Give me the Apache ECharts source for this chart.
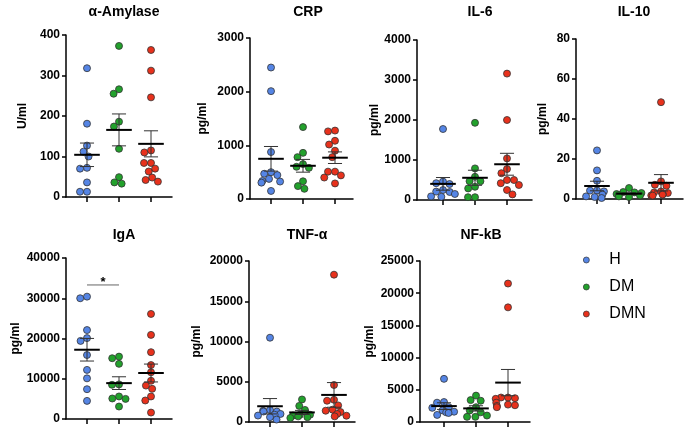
<!DOCTYPE html>
<html>
<head>
<meta charset="utf-8">
<title>cytokines</title>
<script src="https://cdn.jsdelivr.net/npm/echarts@6/dist/echarts.min.js"></script>
<style>
html, body { margin: 0; padding: 0; background: #fff; }
#main { width: 685px; height: 430px; }
</style>
</head>
<body>
<div id="main"></div>
<script>
// groups + panels
const groups = ['H', 'DM', 'DMN'];
const panelNames = ['α-Amylase', 'CRP', 'IL-6', 'IL-10', 'IgA', 'TNF-α', 'NF-kB'];
const units = ['U/ml', 'pg/ml', 'pg/ml', 'pg/ml', 'pg/ml', 'pg/ml', 'pg/ml'];
const yMax = [400, 3000, 4000, 80, 40000, 20000, 25000];
const yStep = [100, 1000, 1000, 20, 10000, 5000, 5000];

// values
const amylaseH = [318, 181, 127, 112, 100, 72, 70, 36, 13, 13];
const amylaseDM = [373, 266, 255, 186, 174, 119, 49, 36, 33];
const amylaseDMN = [363, 312, 246, 115, 110, 84, 84, 70, 63, 48, 42, 38];

const crpH = [2450, 2010, 875, 500, 470, 445, 375, 335, 325, 305, 150];
const crpDM = [1340, 860, 780, 650, 600, 580, 330, 240, 190];
const crpDMN = [1275, 1260, 1085, 1015, 900, 780, 510, 510, 440, 400, 290];

const il6H = [1775, 460, 420, 400, 250, 210, 200, 150, 90, 80];
const il6DM = [1930, 790, 580, 470, 470, 330, 290, 70, 70];
const il6DMN = [3160, 2000, 1040, 775, 670, 500, 500, 420, 375, 250, 140];

const il10H = [24.3, 14.3, 9.1, 4.3, 4.2, 3.8, 2.2, 1.3, 1.0, 0.5];
const il10DM = [5.5, 3.5, 3.3, 3.0, 2.5, 2.0, 1.7, 1.3, 1.0];
const il10DMN = [48.4, 8.8, 7.1, 6.6, 3.8, 3.3, 3.0, 2.5, 2.2, 1.8, 1.7];

const igaH = [30400, 30000, 22100, 20100, 19400, 15900, 12200, 10100, 7400, 4500];
const igaDM = [15500, 15100, 13700, 8600, 8500, 5600, 5100, 5000, 3100];
const igaDMN = [26100, 20900, 16600, 13400, 11600, 9500, 8300, 7500, 5600, 4600, 1600];

const tnfH = [10470, 1500, 1400, 1300, 1300, 1000, 900, 800, 600, 300];
const tnfDM = [2800, 2000, 1500, 900, 900, 800, 700, 600, 500];
const tnfDMN = [18300, 4600, 2760, 2640, 2060, 1530, 1400, 1240, 1000, 780, 700];

const nfkbH = [6700, 3100, 3000, 2300, 2200, 1800, 1600, 1500, 1400, 1100];
const nfkbDM = [4100, 3400, 3300, 2300, 1800, 1500, 1000, 800, 800];
const nfkbDMN = [21500, 17800, 3800, 3800, 3700, 3600, 3000, 2700, 2600, 2500, 2300];

// IgA: H vs DM bracket (from group, to group, height)
const igaSig = [0, 1, 33300];

const panelData = [
	[amylaseH, amylaseDM, amylaseDMN],
	[crpH, crpDM, crpDMN],
	[il6H, il6DM, il6DMN],
	[il10H, il10DM, il10DMN],
	[igaH, igaDM, igaDMN],
	[tnfH, tnfDM, tnfDMN],
	[nfkbH, nfkbDM, nfkbDMN]
];

// layout: y-axis x, first tick x, x-axis end, top, bottom, name gap
const boxes = [
	[66, 87, 172, 35, 197, 37],
	[250, 271, 353, 38, 199, 41],
	[417, 443, 532, 40, 200, 36],
	[576, 597, 683, 39, 199, 27],
	[66, 87, 172, 258, 419, 44],
	[249, 270, 355, 261, 422, 46],
	[420, 444, 530, 261, 422, 44]
];
const colors = ['#5585e5', '#22a12c', '#e8311c'];
const font = 'Liberation Sans';

function mean(a) {
	return a.reduce((s, v) => s + v, 0) / a.length;
}
function sem(a) {
	let m = mean(a);
	let ss = a.reduce((s, v) => s + (v - m) * (v - m), 0);
	return Math.sqrt(ss / (a.length - 1)) / Math.sqrt(a.length);
}

let grid = [], xAxis = [], yAxis = [], series = [], title = [];

boxes.forEach(function (b, i) {
	let ax = b[0], t1 = b[1], ae = b[2], top = b[3], bot = b[4];
	let h = bot - top;
	let xmin = 1 - (t1 - ax) / 32;
	// frame grid with the visible axes
	grid.push({ left: ax, top: top, width: ae - ax, height: h });
	// data grid, one 32px band per group
	grid.push({ left: t1 - 16, top: top, width: 96, height: h });

	xAxis.push({
		gridIndex: 2 * i, type: 'value', min: xmin, max: xmin + (ae - ax) / 32,
		axisLine: { lineStyle: { color: '#000', width: 1.5 } },
		axisTick: { show: true, customValues: [1, 2, 3], length: 5, lineStyle: { color: '#000', width: 1.5 } },
		axisLabel: { show: false },
		splitLine: { show: false }
	});
	xAxis.push({
		gridIndex: 2 * i + 1, type: 'category', data: groups, show: false,
		jitter: 26, jitterOverlap: false, jitterMargin: 0
	});
	yAxis.push({
		gridIndex: 2 * i, type: 'value', min: 0, max: yMax[i], interval: yStep[i],
		name: units[i], nameLocation: 'middle', nameGap: b[5],
		nameTextStyle: { fontSize: 12, fontWeight: 'bold', color: '#000', fontFamily: font },
		axisLine: { show: true, lineStyle: { color: '#000', width: 1.5 } },
		axisTick: { show: true, length: 4, lineStyle: { color: '#000', width: 1.5 } },
		axisLabel: {
			fontSize: 12, fontWeight: 'bold', color: '#000', fontFamily: font, margin: 6,
			formatter: v => String(v)
		},
		splitLine: { show: false }
	});
	yAxis.push({ gridIndex: 2 * i + 1, type: 'value', min: 0, max: yMax[i], show: false });

	title.push({
		text: panelNames[i], left: t1 + 32, top: top < 100 ? 0 : 223, textAlign: 'center',
		textStyle: { fontSize: 14, fontWeight: 'bold', color: '#000', fontFamily: font }
	});

	panelData[i].forEach(function (vals, g) {
		series.push({
			type: 'scatter', name: groups[g],
			xAxisIndex: 2 * i + 1, yAxisIndex: 2 * i + 1,
			data: vals.map(v => [g, v]),
			symbolSize: 7, z: 2,
			itemStyle: { color: colors[g], borderColor: '#333', borderWidth: 0.8, opacity: 1 }
		});
	});

	// mean +- SEM
	series.push({
		type: 'custom', xAxisIndex: 2 * i + 1, yAxisIndex: 2 * i + 1, z: 5, silent: true,
		encode: { x: 0, y: 1 },
		data: panelData[i].map((vals, g) => [g, mean(vals), sem(vals)]),
		renderItem: function (params, api) {
			let x = api.value(0), m = api.value(1), s = api.value(2);
			let c = api.coord([x, m]);
			let hi = api.coord([x, m + s]);
			let lo = api.coord([x, Math.max(m - s, 0)]);
			let bw = api.size([1, 0])[0];
			let w1 = bw * 0.4, w2 = bw * 0.22;
			let thin = { stroke: '#333', lineWidth: 1 };
			return {
				type: 'group', children: [
					{ type: 'line', shape: { x1: c[0], y1: hi[1], x2: c[0], y2: lo[1] }, style: thin },
					{ type: 'line', shape: { x1: c[0] - w2, y1: hi[1], x2: c[0] + w2, y2: hi[1] }, style: thin },
					{ type: 'line', shape: { x1: c[0] - w2, y1: lo[1], x2: c[0] + w2, y2: lo[1] }, style: thin },
					{ type: 'line', shape: { x1: c[0] - w1, y1: c[1], x2: c[0] + w1, y2: c[1] }, style: { stroke: '#000', lineWidth: 2 } }
				]
			};
		}
	});
});

// significance bracket on IgA (panel 4)
series.push({
	type: 'custom', xAxisIndex: 9, yAxisIndex: 9, z: 5, silent: true,
	encode: { x: 0, y: 2 },
	data: [igaSig],
	renderItem: function (params, api) {
		let a = api.coord([api.value(0), api.value(2)]);
		let b = api.coord([api.value(1), api.value(2)]);
		return {
			type: 'group', children: [
				{ type: 'line', shape: { x1: a[0], y1: a[1], x2: b[0], y2: b[1] }, style: { stroke: '#666', lineWidth: 1 } },
				{ type: 'text', x: (a[0] + b[0]) / 2, y: a[1] + 4, style: { text: '*', align: 'center', verticalAlign: 'bottom', font: 'bold 13px "Liberation Sans"', fill: '#000' } }
			]
		};
	}
});

let myChart = echarts.init(document.getElementById('main'), null, { renderer: 'canvas' });
myChart.setOption({
	animation: false,
	backgroundColor: '#fff',
	title: title,
	grid: grid,
	xAxis: xAxis,
	yAxis: yAxis,
	legend: {
		data: groups, orient: 'vertical', left: 583, top: 252, padding: 0,
		itemWidth: 36, itemHeight: 6, itemGap: 11, icon: 'circle', selectedMode: false,
		itemStyle: { borderColor: '#333', borderWidth: 0.7 },
		textStyle: { fontSize: 16, color: '#000', fontFamily: font, lineHeight: 16 }
	},
	series: series
});
</script>
</body>
</html>
